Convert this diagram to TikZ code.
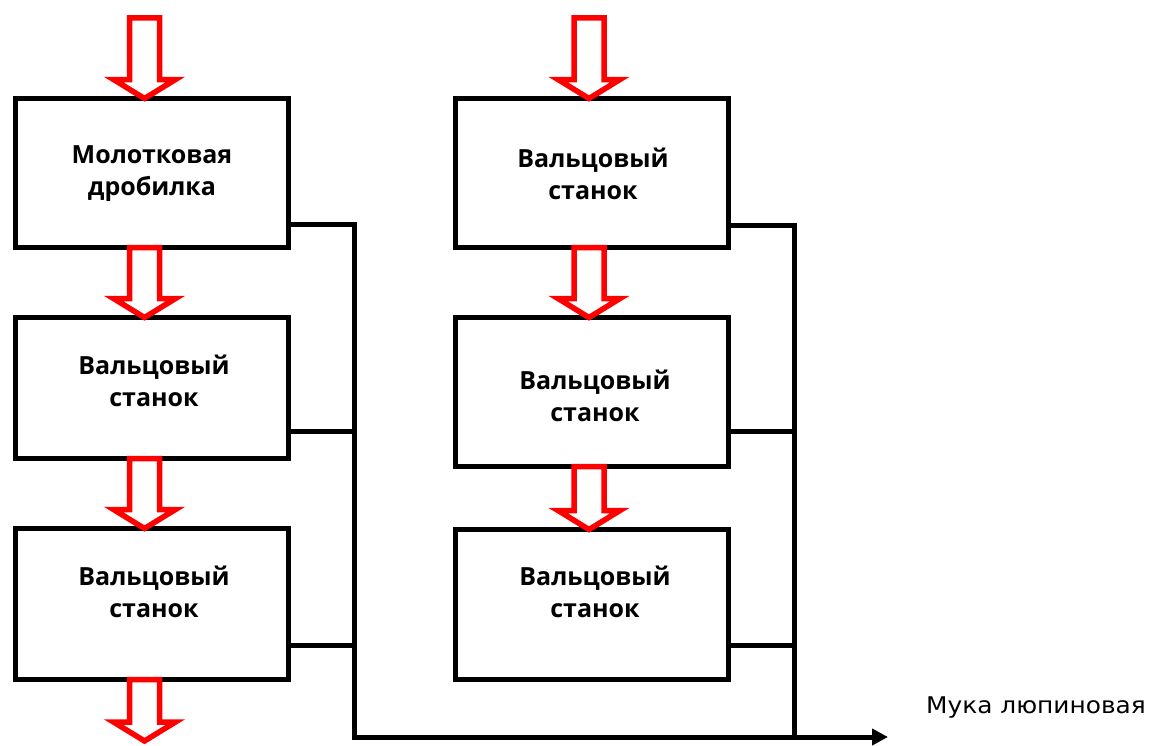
\documentclass[tikz,border=0pt]{standalone}
\usepackage{fontspec}
\usepackage{graphicx}
\setmainfont{Open Sans}
\newfontfamily\labfont{DejaVu Sans}
\usetikzlibrary{calc,arrows.meta}
\begin{document}
\begin{tikzpicture}[x=1pt,y=-1pt,
  box/.style={draw=black,line width=5.5pt,fill=white,minimum width=273pt,inner sep=0pt,outer sep=0pt,shape=rectangle},
  lbl/.style={font=\bfseries\fontsize{25}{32}\selectfont,align=center,inner sep=0pt},
  bus/.style={draw=black,line width=5pt,line join=miter},
  hollow/.style={draw=red,fill=white,line width=5.5pt,line join=miter,
    to path={($(\tikztostart)+(-15,0)$) -- ($(\tikztotarget)+(-15,-19)$) -- ($(\tikztotarget)+(-31,-19)$) -- (\tikztotarget) -- ($(\tikztotarget)+(31,-19)$) -- ($(\tikztotarget)+(15,-19)$) -- ($(\tikztostart)+(15,0)$) -- cycle}}]
\useasboundingbox (0,0) rectangle (1149,745);

% boxes
\node[box,minimum height=149pt] (L1) at (152,173) {};
\node[box,minimum height=141pt] (L2) at (152,388) {};
\node[box,minimum height=151pt] (L3) at (152,604) {};
\node[box,minimum height=149pt] (R1) at (592,173) {};
\node[box,minimum height=149pt] (R2) at (592,392) {};
\node[box,minimum height=150pt] (R3) at (592,604.5) {};

% texts
\node[lbl] (tL1) at (152,174) {Молотковая\\дробилка};
\node[lbl] (tL2) at (154,381) {Вальцовый\\станок};
\node[lbl] (tL3) at (154,592) {Вальцовый\\станок};
\node[lbl] (tR1) at (593,174) {Вальцовый\\станок};
\node[lbl] (tR2) at (595,396) {Вальцовый\\станок};
\node[lbl] (tR3) at (595,592) {Вальцовый\\станок};

% red hollow arrows
\coordinate (axL) at (144.5,17.75);
\coordinate (axR) at (589,17.75);
\coordinate (endL) at (144.5,741);
\draw[hollow] (axL) to (L1.north -| axL);
\draw[hollow] (L1.south -| axL) to (L2.north -| axL);
\draw[hollow] (L2.south -| axL) to (L3.north -| axL);
\draw[hollow] (L3.south -| axL) to (endL);
\draw[hollow] (axR) to (R1.north -| axR);
\draw[hollow] (R1.south -| axR) to (R2.north -| axR);
\draw[hollow] (R2.south -| axR) to (R3.north -| axR);

% collecting lines
\coordinate (bL1) at (354.5,224.5);
\coordinate (bL2) at (354.5,431.5);
\coordinate (bL3) at (354.5,645.5);
\coordinate (bLb) at (354.5,737);
\coordinate (bR1) at (794.5,225);
\coordinate (bR2) at (794.5,431.5);
\coordinate (bR3) at (794.5,645.5);
\coordinate (bRb) at (794.5,737);
\coordinate (out) at (888,737);
\draw[bus,-{Triangle[length=16pt,width=16pt]}] (bL1 -| L1.east) -- (bL1) -- (bLb) -- (out);
\draw[bus] (bL2 -| L2.east) -- (bL2);
\draw[bus] (bL3 -| L3.east) -- (bL3);
\draw[bus] (bR1 -| R1.east) -- (bR1) -- (bRb);
\draw[bus] (bR2 -| R2.east) -- (bR2);
\draw[bus] (bR3 -| R3.east) -- (bR3);

% output label
\node[anchor=base west,inner sep=0pt,font=\labfont\fontsize{23}{26}\selectfont] (lab) at (926,713) {\scalebox{1.08}[1]{Мука люпиновая}};
\end{tikzpicture}
\end{document}
